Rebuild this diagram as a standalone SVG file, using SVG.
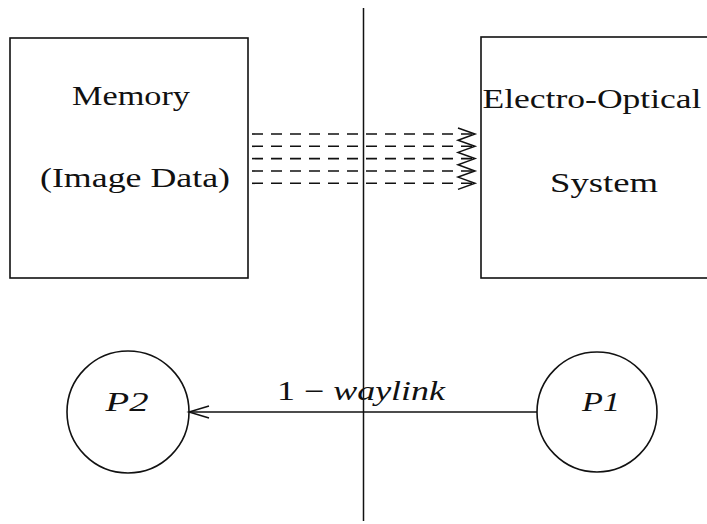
<svg xmlns="http://www.w3.org/2000/svg" width="707" height="524" viewBox="0 0 707 524">
<style>
.box{fill:none;stroke:#111;stroke-width:1.6}
.ln{fill:none;stroke:#111;stroke-width:1.5}
.dash{fill:none;stroke:#111;stroke-width:1.6;stroke-dasharray:11 8}
.t{font-family:"Liberation Serif","DejaVu Serif",serif;font-size:27px;fill:#111}
.i{font-style:italic}
</style>
<defs>
<marker id="open" markerWidth="24" markerHeight="14" refX="21" refY="7" orient="auto" markerUnits="userSpaceOnUse">
<path d="M1,1 L21,7 L1,13" fill="none" stroke="#111" stroke-width="1.5"/>
</marker>
</defs>
<rect width="707" height="524" fill="#fff"/>
<g id="memory">
<rect class="box" x="10" y="38" width="238" height="240"/>
<text class="t" x="131" y="105" text-anchor="middle" textLength="118" lengthAdjust="spacingAndGlyphs">Memory</text>
<text class="t" x="135" y="187" text-anchor="middle" textLength="190" lengthAdjust="spacingAndGlyphs">(Image Data)</text>
</g>
<g id="eos">
<rect class="box" x="481" y="37" width="240" height="241"/>
<text class="t" x="592" y="108" text-anchor="middle" textLength="219" lengthAdjust="spacingAndGlyphs">Electro-Optical</text>
<text class="t" x="604" y="192" text-anchor="middle" textLength="108" lengthAdjust="spacingAndGlyphs">System</text>
</g>
<g id="p2">
<circle class="box" cx="128" cy="412" r="61"/>
<text class="t i" x="127" y="411" text-anchor="middle" textLength="43" lengthAdjust="spacingAndGlyphs">P2</text>
</g>
<g id="p1">
<circle class="box" cx="597" cy="412" r="60"/>
<text class="t i" x="601" y="411" text-anchor="middle" textLength="38" lengthAdjust="spacingAndGlyphs">P1</text>
</g>
<g id="connectors">
<line class="ln" x1="363.5" y1="8" x2="363.5" y2="521"/>
<line class="dash" x1="252" y1="134" x2="474" y2="134"/>
<line class="dash" x1="252" y1="146.3" x2="474" y2="146.3"/>
<line class="dash" x1="252" y1="158.6" x2="474" y2="158.6"/>
<line class="dash" x1="252" y1="171" x2="474" y2="171"/>
<line class="dash" x1="252" y1="183.3" x2="474" y2="183.3"/>
<path class="ln" d="M458,128 L475,134 L458,140.2 L475,146.3 L458,152.4 L475,158.6 L458,164.8 L475,171 L458,177.1 L475,183.3 L458,189.4"/>
<line class="ln" x1="537" y1="412" x2="189" y2="412" marker-end="url(#open)"/>
<text class="t" x="277" y="400" textLength="168" lengthAdjust="spacingAndGlyphs">1 − <tspan class="i">waylink</tspan></text>
</g>
</svg>
